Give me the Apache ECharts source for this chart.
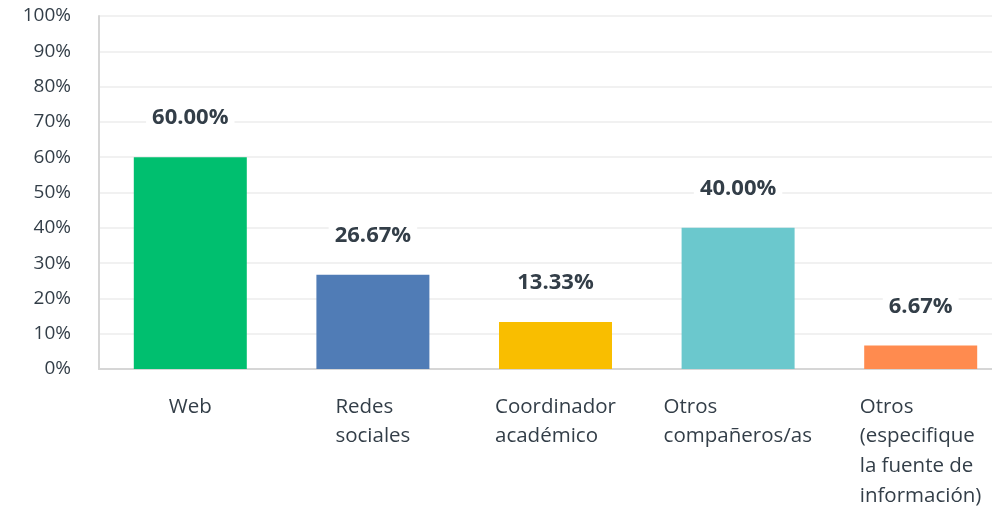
<!DOCTYPE html>
<html>
<head>
<meta charset="utf-8">
<script src="https://cdn.jsdelivr.net/npm/echarts@6/dist/echarts.min.js"></script>
<style>
  html, body { margin: 0; padding: 0; background: #fff; }
  #chart { width: 992px; height: 510px; }
</style>
</head>
<body>
<div id="chart"></div>
<script>
const categories = [
  "Web",
  "Redes\nsociales",
  "Coordinador\nacadémico",
  "Otros\ncompañeros/as",
  "Otros\n(especifique\nla fuente de\ninformación)"
];
const values = [60.0, 26.67, 13.33, 40.0, 6.67];
const barColors = ["#00bf6f", "#507cb6", "#f9be00", "#6bc8cd", "#ff8b4f"];

const FONT = "'Open Sans', sans-serif";
const textColor = "#333e48";
const catFontSize = 20.5;

// widest line of each label, so lines sit left-aligned inside a centred block
const ctx = document.createElement("canvas").getContext("2d");
ctx.font = catFontSize + "px " + FONT;
const rich = {};
categories.forEach((c, i) => {
  const w = Math.max(...c.split("\n").map(l => ctx.measureText(l).width));
  rich["c" + i] = { width: Math.ceil(w), align: "left", fontSize: catFontSize, lineHeight: 29.7, color: textColor, fontFamily: FONT };
});

const chart = echarts.init(document.getElementById("chart"));
chart.setOption({
  animation: false,
  textStyle: { fontFamily: FONT },
  grid: { left: 99, width: 913, top: 16, bottom: 141, outerBoundsMode: "none" },
  xAxis: {
    type: "category",
    data: categories,
    axisLine: { lineStyle: { color: "#d6d6d6", width: 2 } },
    axisTick: { show: false },
    axisLabel: {
      interval: 0,
      margin: 23,
      align: "center",
      verticalAlign: "top",
      formatter: (val, idx) => val.split("\n").map(l => "{c" + idx + "|" + l + "}").join("\n"),
      rich: rich
    }
  },
  yAxis: {
    type: "value",
    min: 0,
    max: 100,
    interval: 10,
    axisLine: { show: true, lineStyle: { color: "#d6d6d6", width: 2 } },
    axisTick: { show: false },
    splitLine: { lineStyle: { color: "#ececec", width: 1.5 } },
    axisLabel: { formatter: "{value}%", fontSize: 19, color: textColor, margin: 28, fontFamily: FONT }
  },
  series: [{
    type: "bar",
    barWidth: 113,
    data: values.map((v, i) => ({ value: v, itemStyle: { color: barColors[i] } })),
    label: {
      show: true,
      position: "top",
      distance: 26,
      formatter: p => p.value.toFixed(2) + "%",
      fontSize: 22,
      fontWeight: "bold",
      color: textColor,
      backgroundColor: "#fff",
      padding: [2, 6],
      lineHeight: 22,
      fontFamily: FONT
    }
  }]
});
</script>
</body>
</html>
